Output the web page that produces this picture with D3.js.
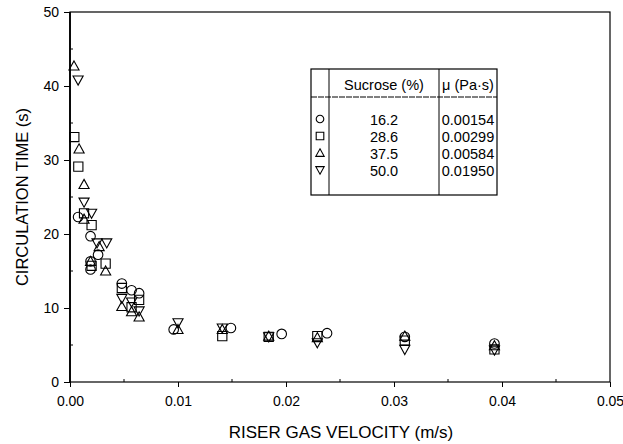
<!DOCTYPE html>
<html>
<head>
<meta charset="utf-8">
<script src="https://cdn.jsdelivr.net/npm/d3@7"></script>
<style>
  body { margin: 0; background: #fff; }
  svg text { font-family: "Liberation Sans", Arial, sans-serif; fill: #000; }
</style>
</head>
<body>
<svg id="chart" width="623" height="444"></svg>
<script>
// riser gas velocity (m/s) vs circulation time (s), one array per sucrose level
var s162 = [[0.00075,22.3],[0.0019,19.7],[0.0026,17.2],[0.0019,16.3],[0.0019,15.2],[0.0048,13.3],
            [0.0057,12.4],[0.0064,12.0],[0.0096,7.1],[0.0149,7.3],[0.0196,6.5],[0.0238,6.6],
            [0.0310,6.1],[0.0393,5.2]];
var s286 = [[0.0004,33.1],[0.00077,29.1],[0.0013,22.8],[0.0020,21.2],[0.0020,15.7],[0.0033,16.0],
            [0.0048,12.7],[0.0064,11.1],[0.0057,10.1],[0.0141,6.2],[0.0184,6.1],[0.0229,6.2],
            [0.0310,5.6],[0.0393,4.4]];
var s375 = [[0.00037,42.7],[0.00084,31.5],[0.0013,26.7],[0.0013,22.0],[0.0019,16.3],[0.0027,18.3],
            [0.0033,15.0],[0.0048,10.2],[0.0057,9.5],[0.0064,8.8],[0.0100,7.1],[0.0141,7.1],
            [0.0184,6.2],[0.0229,6.0],[0.0310,6.2],[0.0393,4.9]];
var s500 = [[0.00075,40.8],[0.0013,24.3],[0.0020,22.8],[0.0025,18.8],[0.0034,18.8],[0.0048,11.3],
            [0.0057,10.8],[0.0064,9.6],[0.0100,8.0],[0.0141,7.3],[0.0184,6.1],[0.0229,5.3],
            [0.0310,4.4],[0.0393,4.3]];

var sucrose = ["16.2", "28.6", "37.5", "50.0"];
var viscosity = ["0.00154", "0.00299", "0.00584", "0.01950"];
var xTicks = [0, 0.01, 0.02, 0.03, 0.04, 0.05];
var yTicks = [0, 10, 20, 30, 40, 50];

var series = [
  {data: s162, sym: "circle"},
  {data: s286, sym: "square"},
  {data: s375, sym: "up"},
  {data: s500, sym: "down"}
];

var svg = d3.select("#chart");
var L = 70, R = 610, T = 12, B = 382;

var x = d3.scaleLinear().domain([0, 0.05]).range([L, R]);
var y = d3.scaleLinear().domain([0, 50]).range([B, T]);

// frame
svg.append("rect").attr("x", L).attr("y", T).attr("width", R - L).attr("height", B - T)
   .attr("fill", "none").attr("stroke", "#000").attr("stroke-width", 1.2);
svg.append("line").attr("x1", L).attr("x2", L).attr("y1", T).attr("y2", B)
   .attr("stroke", "#000").attr("stroke-width", 1.8);

var xAxis = d3.axisBottom(x).tickValues(xTicks).tickFormat(d3.format(".2f")).tickSize(5).tickPadding(9);
var yAxis = d3.axisLeft(y).tickValues(yTicks).tickSize(6).tickPadding(5);

var gx = svg.append("g").attr("transform", "translate(0," + B + ")").call(xAxis);
var gy = svg.append("g").attr("transform", "translate(" + L + ",0)").call(yAxis);
[gx, gy].forEach(function(g) {
  g.select(".domain").remove();
  g.selectAll("text").style("font-size", "14px").style("font-family", "Liberation Sans, Arial, sans-serif");
});

// minor ticks pointing inward
svg.append("g").selectAll("line").data([0.005, 0.015, 0.025, 0.035, 0.045]).join("line")
   .attr("x1", function(d) { return x(d); }).attr("x2", function(d) { return x(d); })
   .attr("y1", B).attr("y2", B - 3).attr("stroke", "#000");
svg.append("g").selectAll("line").data([5, 15, 25, 35, 45]).join("line")
   .attr("x1", L).attr("x2", L + 3)
   .attr("y1", function(d) { return y(d); }).attr("y2", function(d) { return y(d); }).attr("stroke", "#000");

svg.append("text").attr("x", 341).attr("y", 438).attr("text-anchor", "middle")
   .style("font-size", "17px").text("RISER GAS VELOCITY (m/s)");
svg.append("text").attr("transform", "translate(28," + ((T + B) / 2) + ") rotate(-90)")
   .attr("text-anchor", "middle").style("font-size", "16.5px").text("CIRCULATION TIME (s)");

function symbolPath(sym, cx, cy, s) {
  if (sym == "circle") {
    return "M" + (cx + s) + "," + cy + "A" + s + "," + s + " 0 1,1 " + (cx - s) + "," + cy +
           "A" + s + "," + s + " 0 1,1 " + (cx + s) + "," + cy + "Z";
  }
  if (sym == "square") {
    return "M" + (cx - s) + "," + (cy - s) + "h" + (2 * s) + "v" + (2 * s) + "h" + (-2 * s) + "Z";
  }
  var h = s * 1.1;
  if (sym == "up") {
    return "M" + cx + "," + (cy - h) + "L" + (cx + s * 1.1) + "," + (cy + h * 0.8) + "L" + (cx - s * 1.1) + "," + (cy + h * 0.8) + "Z";
  }
  return "M" + cx + "," + (cy + h) + "L" + (cx + s * 1.1) + "," + (cy - h * 0.8) + "L" + (cx - s * 1.1) + "," + (cy - h * 0.8) + "Z";
}

series.forEach(function(sr) {
  svg.append("g").selectAll("path").data(sr.data).join("path")
     .attr("d", function(d) { return symbolPath(sr.sym, x(d[0]), y(d[1]), sr.sym == "circle" ? 4.8 : 4.6); })
     .attr("fill", "none").attr("stroke", "#000").attr("stroke-width", 1.1);
});

// legend table
var tl = 311, tr = 497, tt = 69, tb = 195, c1 = 329, c2 = 439, hs = 97;
var lg = svg.append("g");
lg.append("rect").attr("x", tl).attr("y", tt).attr("width", tr - tl).attr("height", tb - tt)
  .attr("fill", "#fff").attr("stroke", "#000").attr("stroke-width", 1.2);
lg.append("line").attr("x1", c1).attr("x2", c1).attr("y1", tt).attr("y2", tb).attr("stroke", "#000");
lg.append("line").attr("x1", c2).attr("x2", c2).attr("y1", tt).attr("y2", tb).attr("stroke", "#000");
lg.append("line").attr("x1", tl).attr("x2", tr).attr("y1", hs).attr("y2", hs).attr("stroke", "#000")
  .attr("stroke-dasharray", "6,1");
lg.append("text").attr("x", (c1 + c2) / 2).attr("y", 90).attr("text-anchor", "middle").style("font-size", "14.5px").text("Sucrose (%)");
lg.append("text").attr("x", (c2 + tr) / 2).attr("y", 90).attr("text-anchor", "middle").style("font-size", "14.5px").text("μ (Pa·s)");

var rowY = d3.scaleLinear().domain([0, 3]).range([120, 171]);
series.forEach(function(sr, i) {
  lg.append("path").attr("d", symbolPath(sr.sym, (tl + c1) / 2, rowY(i) - 1, 3.8))
    .attr("fill", "none").attr("stroke", "#000").attr("stroke-width", 1.1);
  lg.append("text").attr("x", (c1 + c2) / 2).attr("y", rowY(i) + 5).attr("text-anchor", "middle")
    .style("font-size", "14.5px").text(sucrose[i]);
  lg.append("text").attr("x", (c2 + tr) / 2).attr("y", rowY(i) + 5).attr("text-anchor", "middle")
    .style("font-size", "14.5px").text(viscosity[i]);
});
</script>
</body>
</html>
